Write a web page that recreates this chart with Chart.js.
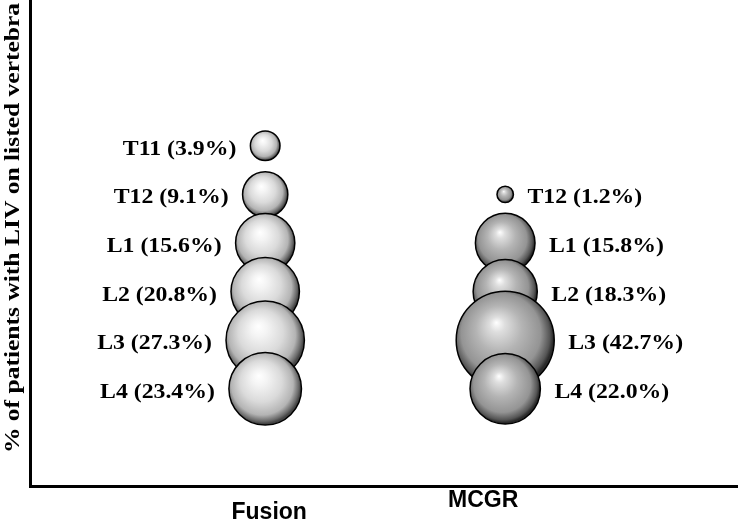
<!DOCTYPE html>
<html lang="en">
<head>
<meta charset="UTF-8">
<title>LIV bubble chart</title>
<script src="https://cdn.jsdelivr.net/npm/chart.js"></script>
<style>
  html, body { margin: 0; padding: 0; background: #fff; }
  #wrap { width: 738px; height: 519px; position: relative; }
</style>
</head>
<body>
<div id="wrap"><canvas id="c"></canvas></div>
<script>
// data
const groups = ['Fusion', 'MCGR'];
const fusionLevels = ['T11', 'T12', 'L1', 'L2', 'L3', 'L4'];
const fusionPct = [3.9, 9.1, 15.6, 20.8, 27.3, 23.4];
const mcgrLevels = ['T12', 'L1', 'L2', 'L3', 'L4'];
const mcgrPct = [1.2, 15.8, 18.3, 42.7, 22.0];
// vertical rank of each vertebra (top = higher)
const levelRank = { T11: 6, T12: 5, L1: 4, L2: 3, L3: 2, L4: 1 };
const yTitle = '% of patients with LIV on listed vertebra';

const SERIF = "'Liberation Serif', 'Times New Roman', serif";
const SANS = "'Liberation Sans', Arial, sans-serif";
const STRETCH = 1.08; // serif text in the figure is a bit wide

const bubbleR = p => 7.5 * Math.sqrt(p);

function makePoints(levels, pct, gx) {
  return levels.map((lv, i) => ({ x: gx, y: levelRank[lv], r: bubbleR(pct[i]), lv: lv, p: pct[i] }));
}

function sphere(ctx, stops) {
  const chart = ctx.chart;
  if (ctx.type !== 'data' || !chart.chartArea) return stops[1][1];
  const x = chart.scales.x.getPixelForValue(ctx.raw.x);
  const y = chart.scales.y.getPixelForValue(ctx.raw.y);
  const r = ctx.raw.r;
  const g = chart.ctx.createRadialGradient(x - 0.18 * r, y - 0.36 * r, 0, x - 0.06 * r, y - 0.08 * r, r * 1.04);
  stops.forEach(s => g.addColorStop(s[0], s[1]));
  return g;
}

const lightStops = [[0, '#ffffff'], [0.2, '#f4f4f4'], [0.55, '#dadada'], [0.82, '#b4b4b4'], [0.95, '#6a6a6a'], [1, '#444444']];
const darkStops = [[0, '#ffffff'], [0.15, '#dedede'], [0.45, '#b4b4b4'], [0.78, '#949494'], [0.94, '#555555'], [1, '#2a2a2a']];

const labelPlugin = {
  id: 'labels',
  afterDatasetsDraw(chart) {
    const c = chart.ctx;
    c.save();
    c.fillStyle = '#000';
    c.font = 'bold 22px ' + SERIF;
    c.textBaseline = 'alphabetic';
    chart.data.datasets.forEach((ds, di) => {
      const meta = chart.getDatasetMeta(di);
      meta.data.forEach((el, i) => {
        const pt = ds.data[i];
        const txt = pt.lv + ' (' + pt.p.toFixed(1) + '%)';
        const r = el.options.radius;
        c.save();
        if (di === 0) {
          c.translate(el.x - r - 14, el.y + 9);
          c.textAlign = 'right';
        } else {
          c.translate(el.x + r + 14, el.y + 9);
          c.textAlign = 'left';
        }
        c.scale(STRETCH, 1);
        c.fillText(txt, 0, 0);
        c.restore();
      });
    });

    // group names under the axis
    const xs = chart.scales.x;
    c.font = 'bold 23px ' + SANS;
    c.textAlign = 'center';
    c.fillText(groups[0], xs.getPixelForValue(1) + 4, 519);
    c.fillText(groups[1], xs.getPixelForValue(2) - 22, 507);

    // y axis title
    c.save();
    c.translate(19, 228);
    c.rotate(-Math.PI / 2);
    c.scale(1.16, 1);
    c.font = 'bold 22px ' + SERIF;
    c.textAlign = 'center';
    c.fillText(yTitle, 0, 0);
    c.restore();
    c.restore();
  }
};

new Chart(document.getElementById('c'), {
  type: 'bubble',
  data: {
    datasets: [
      {
        label: groups[0],
        data: makePoints(fusionLevels, fusionPct, 1),
        backgroundColor: ctx => sphere(ctx, lightStops),
        borderColor: '#000',
        borderWidth: 1.5
      },
      {
        label: groups[1],
        data: makePoints(mcgrLevels, mcgrPct, 2),
        backgroundColor: ctx => sphere(ctx, darkStops),
        borderColor: '#000',
        borderWidth: 1.5
      }
    ]
  },
  options: {
    responsive: true,
    maintainAspectRatio: false,
    animation: false,
    events: [],
    layout: { padding: 0, autoPadding: false },
    plugins: { legend: { display: false }, tooltip: { enabled: false } },
    scales: {
      x: {
        type: 'linear', min: 0.02, max: 2.97,
        grid: { display: false },
        ticks: { display: false },
        border: { display: true, color: '#000', width: 3 },
        afterFit: s => { s.height = 33; }
      },
      y: {
        type: 'linear', min: -1, max: 9,
        grid: { display: false },
        ticks: { display: false },
        border: { display: true, color: '#000', width: 3 },
        afterFit: s => { s.width = 30; }
      }
    }
  },
  plugins: [labelPlugin]
});
</script>
</body>
</html>
